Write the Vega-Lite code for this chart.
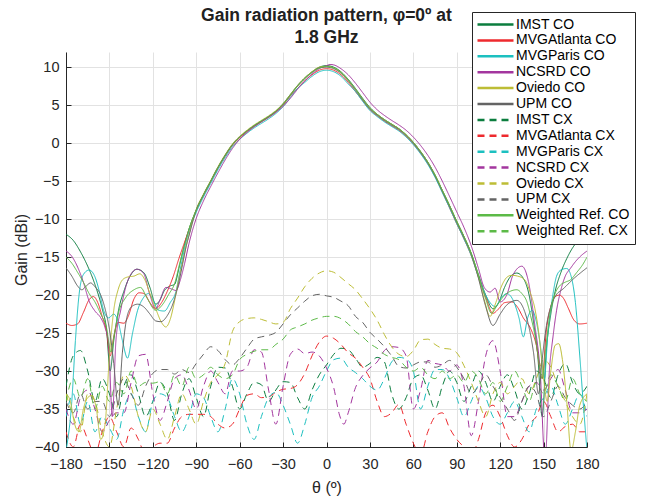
{
"$schema": "https://vega.github.io/schema/vega-lite/v6.json",
"width": 521, "height": 395,
"autosize": "none",
"padding": {"left": 66, "top": 52, "right": 62, "bottom": 57},
"background": "white",
"config": {"view": {"stroke": null}, "font": "Liberation Sans",
  "axis": {"domainColor": "#262626", "tickColor": "#262626", "labelColor": "#262626", "titleColor": "#262626", "labelFont": "Liberation Sans", "titleFont": "Liberation Sans", "labelFontSize": 14.5, "titleFontSize": 16, "titleFontWeight": "normal", "gridColor": "#e2e2e2", "gridOpacity": 1, "tickSize": -5, "domainWidth": 1, "labelOverlap": false, "labelFlush": false}},
"title": {"text": ["Gain radiation pattern, φ=0º at", "1.8 GHz"], "fontSize": 17.5, "fontWeight": "bold", "color": "#212121", "font": "Liberation Sans", "offset": 8, "dy": 43, "lineHeight": 22, "anchor": "middle", "frame": "group"},
"datasets": {"d": [
{"s":"IMST CX","t":-180,"g":-32},{"s":"IMST CX","t":-175,"g":-28},{"s":"IMST CX","t":-170,"g":-27.3},{"s":"IMST CX","t":-165,"g":-30},{"s":"IMST CX","t":-160,"g":-34},{"s":"IMST CX","t":-155,"g":-31},{"s":"IMST CX","t":-150,"g":-33},{"s":"IMST CX","t":-145,"g":-36},{"s":"IMST CX","t":-140,"g":-32},{"s":"IMST CX","t":-135,"g":-30.5},{"s":"IMST CX","t":-130,"g":-33},{"s":"IMST CX","t":-125,"g":-36},{"s":"IMST CX","t":-120,"g":-34},{"s":"IMST CX","t":-115,"g":-31.5},{"s":"IMST CX","t":-110,"g":-33},{"s":"IMST CX","t":-105,"g":-36.5},{"s":"IMST CX","t":-100,"g":-33},{"s":"IMST CX","t":-95,"g":-31},{"s":"IMST CX","t":-90,"g":-33.5},{"s":"IMST CX","t":-85,"g":-36},{"s":"IMST CX","t":-80,"g":-32},{"s":"IMST CX","t":-75,"g":-29.5},{"s":"IMST CX","t":-70,"g":-29.6},{"s":"IMST CX","t":-65,"g":-32},{"s":"IMST CX","t":-60,"g":-35},{"s":"IMST CX","t":-55,"g":-33},{"s":"IMST CX","t":-50,"g":-31.5},{"s":"IMST CX","t":-45,"g":-31.8},{"s":"IMST CX","t":-40,"g":-34},{"s":"IMST CX","t":-35,"g":-32.5},{"s":"IMST CX","t":-30,"g":-31.4},{"s":"IMST CX","t":-25,"g":-31.5},{"s":"IMST CX","t":-20,"g":-33.5},{"s":"IMST CX","t":-15,"g":-35},{"s":"IMST CX","t":-10,"g":-32.5},{"s":"IMST CX","t":-5,"g":-30.5},{"s":"IMST CX","t":0,"g":-29.2},{"s":"IMST CX","t":5,"g":-27.8},{"s":"IMST CX","t":10,"g":-27},{"s":"IMST CX","t":15,"g":-27.2},{"s":"IMST CX","t":20,"g":-28.3},{"s":"IMST CX","t":25,"g":-29.5},{"s":"IMST CX","t":30,"g":-29},{"s":"IMST CX","t":35,"g":-28.2},{"s":"IMST CX","t":40,"g":-28.8},{"s":"IMST CX","t":45,"g":-33},{"s":"IMST CX","t":50,"g":-35},{"s":"IMST CX","t":55,"g":-33.5},{"s":"IMST CX","t":60,"g":-31},{"s":"IMST CX","t":65,"g":-30.5},{"s":"IMST CX","t":70,"g":-32.5},{"s":"IMST CX","t":75,"g":-35},{"s":"IMST CX","t":80,"g":-32},{"s":"IMST CX","t":85,"g":-30},{"s":"IMST CX","t":90,"g":-31.5},{"s":"IMST CX","t":95,"g":-34},{"s":"IMST CX","t":100,"g":-32},{"s":"IMST CX","t":105,"g":-30},{"s":"IMST CX","t":110,"g":-31.5},{"s":"IMST CX","t":115,"g":-34},{"s":"IMST CX","t":120,"g":-32},{"s":"IMST CX","t":125,"g":-30.5},{"s":"IMST CX","t":130,"g":-32.5},{"s":"IMST CX","t":135,"g":-35},{"s":"IMST CX","t":140,"g":-33},{"s":"IMST CX","t":145,"g":-30},{"s":"IMST CX","t":150,"g":-31},{"s":"IMST CX","t":155,"g":-33.5},{"s":"IMST CX","t":160,"g":-30.5},{"s":"IMST CX","t":165,"g":-29},{"s":"IMST CX","t":170,"g":-31.5},{"s":"IMST CX","t":175,"g":-33},{"s":"IMST CX","t":180,"g":-32},

{"s":"MVGAtlanta CX","t":-180,"g":-38},{"s":"MVGAtlanta CX","t":-175,"g":-40},{"s":"MVGAtlanta CX","t":-170,"g":-37},{"s":"MVGAtlanta CX","t":-165,"g":-39},{"s":"MVGAtlanta CX","t":-160,"g":-41},{"s":"MVGAtlanta CX","t":-155,"g":-38},{"s":"MVGAtlanta CX","t":-150,"g":-36},{"s":"MVGAtlanta CX","t":-145,"g":-38},{"s":"MVGAtlanta CX","t":-140,"g":-40},{"s":"MVGAtlanta CX","t":-135,"g":-37.5},{"s":"MVGAtlanta CX","t":-130,"g":-39},{"s":"MVGAtlanta CX","t":-125,"g":-41},{"s":"MVGAtlanta CX","t":-120,"g":-40},{"s":"MVGAtlanta CX","t":-115,"g":-39.5},{"s":"MVGAtlanta CX","t":-110,"g":-39.5},{"s":"MVGAtlanta CX","t":-105,"g":-37.5},{"s":"MVGAtlanta CX","t":-100,"g":-36},{"s":"MVGAtlanta CX","t":-95,"g":-35.7},{"s":"MVGAtlanta CX","t":-90,"g":-35.7},{"s":"MVGAtlanta CX","t":-85,"g":-35.7},{"s":"MVGAtlanta CX","t":-80,"g":-36},{"s":"MVGAtlanta CX","t":-75,"g":-37},{"s":"MVGAtlanta CX","t":-70,"g":-37.5},{"s":"MVGAtlanta CX","t":-65,"g":-37},{"s":"MVGAtlanta CX","t":-60,"g":-35},{"s":"MVGAtlanta CX","t":-55,"g":-33.2},{"s":"MVGAtlanta CX","t":-50,"g":-33},{"s":"MVGAtlanta CX","t":-45,"g":-33.5},{"s":"MVGAtlanta CX","t":-40,"g":-33.4},{"s":"MVGAtlanta CX","t":-35,"g":-32.8},{"s":"MVGAtlanta CX","t":-30,"g":-32.4},{"s":"MVGAtlanta CX","t":-25,"g":-32.3},{"s":"MVGAtlanta CX","t":-20,"g":-31.8},{"s":"MVGAtlanta CX","t":-15,"g":-30.3},{"s":"MVGAtlanta CX","t":-10,"g":-28},{"s":"MVGAtlanta CX","t":-5,"g":-26.2},{"s":"MVGAtlanta CX","t":0,"g":-25.4},{"s":"MVGAtlanta CX","t":5,"g":-25.7},{"s":"MVGAtlanta CX","t":10,"g":-26.5},{"s":"MVGAtlanta CX","t":15,"g":-27.6},{"s":"MVGAtlanta CX","t":20,"g":-28.3},{"s":"MVGAtlanta CX","t":25,"g":-29.5},{"s":"MVGAtlanta CX","t":30,"g":-31},{"s":"MVGAtlanta CX","t":35,"g":-34},{"s":"MVGAtlanta CX","t":40,"g":-36},{"s":"MVGAtlanta CX","t":45,"g":-35.5},{"s":"MVGAtlanta CX","t":50,"g":-34.4},{"s":"MVGAtlanta CX","t":55,"g":-37},{"s":"MVGAtlanta CX","t":60,"g":-39.5},{"s":"MVGAtlanta CX","t":65,"g":-41},{"s":"MVGAtlanta CX","t":70,"g":-38},{"s":"MVGAtlanta CX","t":75,"g":-36},{"s":"MVGAtlanta CX","t":80,"g":-35.5},{"s":"MVGAtlanta CX","t":85,"g":-37.5},{"s":"MVGAtlanta CX","t":90,"g":-39},{"s":"MVGAtlanta CX","t":95,"g":-40},{"s":"MVGAtlanta CX","t":100,"g":-41},{"s":"MVGAtlanta CX","t":105,"g":-39},{"s":"MVGAtlanta CX","t":110,"g":-35.5},{"s":"MVGAtlanta CX","t":115,"g":-34.5},{"s":"MVGAtlanta CX","t":120,"g":-36},{"s":"MVGAtlanta CX","t":125,"g":-38.5},{"s":"MVGAtlanta CX","t":130,"g":-40},{"s":"MVGAtlanta CX","t":135,"g":-39},{"s":"MVGAtlanta CX","t":140,"g":-37},{"s":"MVGAtlanta CX","t":145,"g":-36},{"s":"MVGAtlanta CX","t":150,"g":-34},{"s":"MVGAtlanta CX","t":155,"g":-36},{"s":"MVGAtlanta CX","t":160,"g":-38},{"s":"MVGAtlanta CX","t":165,"g":-37.3},{"s":"MVGAtlanta CX","t":170,"g":-37},{"s":"MVGAtlanta CX","t":175,"g":-38},{"s":"MVGAtlanta CX","t":180,"g":-38},

{"s":"MVGParis CX","t":-180,"g":-36},{"s":"MVGParis CX","t":-175,"g":-33},{"s":"MVGParis CX","t":-170,"g":-37},{"s":"MVGParis CX","t":-165,"g":-34},{"s":"MVGParis CX","t":-160,"g":-38},{"s":"MVGParis CX","t":-155,"g":-36},{"s":"MVGParis CX","t":-150,"g":-37.5},{"s":"MVGParis CX","t":-145,"g":-39},{"s":"MVGParis CX","t":-140,"g":-35},{"s":"MVGParis CX","t":-135,"g":-33},{"s":"MVGParis CX","t":-130,"g":-36},{"s":"MVGParis CX","t":-125,"g":-38},{"s":"MVGParis CX","t":-120,"g":-34},{"s":"MVGParis CX","t":-115,"g":-33},{"s":"MVGParis CX","t":-110,"g":-33.5},{"s":"MVGParis CX","t":-105,"g":-36},{"s":"MVGParis CX","t":-100,"g":-38},{"s":"MVGParis CX","t":-95,"g":-36},{"s":"MVGParis CX","t":-90,"g":-33},{"s":"MVGParis CX","t":-85,"g":-33.5},{"s":"MVGParis CX","t":-80,"g":-36},{"s":"MVGParis CX","t":-75,"g":-38},{"s":"MVGParis CX","t":-70,"g":-35},{"s":"MVGParis CX","t":-65,"g":-31},{"s":"MVGParis CX","t":-60,"g":-33},{"s":"MVGParis CX","t":-55,"g":-37},{"s":"MVGParis CX","t":-50,"g":-39},{"s":"MVGParis CX","t":-45,"g":-36},{"s":"MVGParis CX","t":-40,"g":-33.5},{"s":"MVGParis CX","t":-35,"g":-32.8},{"s":"MVGParis CX","t":-30,"g":-34.5},{"s":"MVGParis CX","t":-25,"g":-37},{"s":"MVGParis CX","t":-20,"g":-39.5},{"s":"MVGParis CX","t":-15,"g":-37},{"s":"MVGParis CX","t":-10,"g":-33.5},{"s":"MVGParis CX","t":-5,"g":-32},{"s":"MVGParis CX","t":0,"g":-30},{"s":"MVGParis CX","t":5,"g":-28.5},{"s":"MVGParis CX","t":10,"g":-28.3},{"s":"MVGParis CX","t":15,"g":-29.5},{"s":"MVGParis CX","t":20,"g":-30.2},{"s":"MVGParis CX","t":25,"g":-31},{"s":"MVGParis CX","t":30,"g":-32},{"s":"MVGParis CX","t":35,"g":-32.5},{"s":"MVGParis CX","t":40,"g":-31},{"s":"MVGParis CX","t":45,"g":-28.8},{"s":"MVGParis CX","t":50,"g":-28.2},{"s":"MVGParis CX","t":55,"g":-28.4},{"s":"MVGParis CX","t":60,"g":-30},{"s":"MVGParis CX","t":65,"g":-35},{"s":"MVGParis CX","t":70,"g":-32},{"s":"MVGParis CX","t":75,"g":-29.8},{"s":"MVGParis CX","t":80,"g":-29.8},{"s":"MVGParis CX","t":85,"g":-31},{"s":"MVGParis CX","t":90,"g":-33.5},{"s":"MVGParis CX","t":95,"g":-36},{"s":"MVGParis CX","t":100,"g":-34},{"s":"MVGParis CX","t":105,"g":-32},{"s":"MVGParis CX","t":110,"g":-33.5},{"s":"MVGParis CX","t":115,"g":-36},{"s":"MVGParis CX","t":120,"g":-37},{"s":"MVGParis CX","t":125,"g":-35.5},{"s":"MVGParis CX","t":130,"g":-34},{"s":"MVGParis CX","t":135,"g":-36},{"s":"MVGParis CX","t":140,"g":-38},{"s":"MVGParis CX","t":145,"g":-35},{"s":"MVGParis CX","t":150,"g":-33.5},{"s":"MVGParis CX","t":155,"g":-32},{"s":"MVGParis CX","t":160,"g":-34.5},{"s":"MVGParis CX","t":165,"g":-37},{"s":"MVGParis CX","t":170,"g":-35},{"s":"MVGParis CX","t":175,"g":-33},{"s":"MVGParis CX","t":180,"g":-36},

{"s":"NCSRD CX","t":-180,"g":-35},{"s":"NCSRD CX","t":-175,"g":-37},{"s":"NCSRD CX","t":-170,"g":-33.5},{"s":"NCSRD CX","t":-165,"g":-32.5},{"s":"NCSRD CX","t":-160,"g":-35},{"s":"NCSRD CX","t":-155,"g":-38},{"s":"NCSRD CX","t":-150,"g":-36.5},{"s":"NCSRD CX","t":-145,"g":-35.5},{"s":"NCSRD CX","t":-140,"g":-35.5},{"s":"NCSRD CX","t":-135,"g":-31.5},{"s":"NCSRD CX","t":-130,"g":-28},{"s":"NCSRD CX","t":-125,"g":-27.8},{"s":"NCSRD CX","t":-120,"g":-33},{"s":"NCSRD CX","t":-115,"g":-36.5},{"s":"NCSRD CX","t":-110,"g":-34},{"s":"NCSRD CX","t":-105,"g":-31},{"s":"NCSRD CX","t":-100,"g":-30.5},{"s":"NCSRD CX","t":-95,"g":-32.5},{"s":"NCSRD CX","t":-90,"g":-35},{"s":"NCSRD CX","t":-85,"g":-32},{"s":"NCSRD CX","t":-80,"g":-30},{"s":"NCSRD CX","t":-75,"g":-31.5},{"s":"NCSRD CX","t":-70,"g":-33},{"s":"NCSRD CX","t":-65,"g":-30},{"s":"NCSRD CX","t":-60,"g":-30},{"s":"NCSRD CX","t":-55,"g":-29.5},{"s":"NCSRD CX","t":-50,"g":-27.2},{"s":"NCSRD CX","t":-45,"g":-27.5},{"s":"NCSRD CX","t":-40,"g":-32.5},{"s":"NCSRD CX","t":-35,"g":-37},{"s":"NCSRD CX","t":-30,"g":-32},{"s":"NCSRD CX","t":-25,"g":-27.8},{"s":"NCSRD CX","t":-20,"g":-27.1},{"s":"NCSRD CX","t":-15,"g":-27.7},{"s":"NCSRD CX","t":-10,"g":-27.5},{"s":"NCSRD CX","t":-5,"g":-28},{"s":"NCSRD CX","t":0,"g":-29.6},{"s":"NCSRD CX","t":5,"g":-32.2},{"s":"NCSRD CX","t":9,"g":-35.8},{"s":"NCSRD CX","t":12,"g":-37},{"s":"NCSRD CX","t":15,"g":-35.5},{"s":"NCSRD CX","t":20,"g":-32.2},{"s":"NCSRD CX","t":25,"g":-30.6},{"s":"NCSRD CX","t":30,"g":-29.6},{"s":"NCSRD CX","t":35,"g":-28.8},{"s":"NCSRD CX","t":40,"g":-27.3},{"s":"NCSRD CX","t":45,"g":-26.8},{"s":"NCSRD CX","t":50,"g":-26.9},{"s":"NCSRD CX","t":55,"g":-28},{"s":"NCSRD CX","t":60,"g":-35},{"s":"NCSRD CX","t":65,"g":-32.5},{"s":"NCSRD CX","t":70,"g":-28.6},{"s":"NCSRD CX","t":75,"g":-29},{"s":"NCSRD CX","t":80,"g":-29.2},{"s":"NCSRD CX","t":85,"g":-30},{"s":"NCSRD CX","t":90,"g":-29.2},{"s":"NCSRD CX","t":95,"g":-32},{"s":"NCSRD CX","t":100,"g":-38.5},{"s":"NCSRD CX","t":105,"g":-34},{"s":"NCSRD CX","t":110,"g":-28},{"s":"NCSRD CX","t":115,"g":-26},{"s":"NCSRD CX","t":120,"g":-30},{"s":"NCSRD CX","t":125,"g":-36},{"s":"NCSRD CX","t":130,"g":-36},{"s":"NCSRD CX","t":135,"g":-34},{"s":"NCSRD CX","t":140,"g":-32},{"s":"NCSRD CX","t":145,"g":-31.5},{"s":"NCSRD CX","t":150,"g":-32.5},{"s":"NCSRD CX","t":155,"g":-31},{"s":"NCSRD CX","t":160,"g":-29.8},{"s":"NCSRD CX","t":165,"g":-32.5},{"s":"NCSRD CX","t":170,"g":-35.5},{"s":"NCSRD CX","t":175,"g":-35.5},{"s":"NCSRD CX","t":180,"g":-35},

{"s":"Oviedo CX","t":-180,"g":-33},{"s":"Oviedo CX","t":-175,"g":-36},{"s":"Oviedo CX","t":-170,"g":-38},{"s":"Oviedo CX","t":-165,"g":-33},{"s":"Oviedo CX","t":-160,"g":-34},{"s":"Oviedo CX","t":-155,"g":-38},{"s":"Oviedo CX","t":-150,"g":-40},{"s":"Oviedo CX","t":-145,"g":-35},{"s":"Oviedo CX","t":-140,"g":-30.5},{"s":"Oviedo CX","t":-135,"g":-32},{"s":"Oviedo CX","t":-130,"g":-36},{"s":"Oviedo CX","t":-125,"g":-38},{"s":"Oviedo CX","t":-120,"g":-35},{"s":"Oviedo CX","t":-115,"g":-37},{"s":"Oviedo CX","t":-110,"g":-39},{"s":"Oviedo CX","t":-105,"g":-36},{"s":"Oviedo CX","t":-100,"g":-33},{"s":"Oviedo CX","t":-95,"g":-35},{"s":"Oviedo CX","t":-90,"g":-37},{"s":"Oviedo CX","t":-85,"g":-34},{"s":"Oviedo CX","t":-80,"g":-31.5},{"s":"Oviedo CX","t":-75,"g":-30.5},{"s":"Oviedo CX","t":-70,"g":-29},{"s":"Oviedo CX","t":-65,"g":-24.8},{"s":"Oviedo CX","t":-60,"g":-23.5},{"s":"Oviedo CX","t":-55,"g":-23.1},{"s":"Oviedo CX","t":-50,"g":-23},{"s":"Oviedo CX","t":-45,"g":-23.2},{"s":"Oviedo CX","t":-40,"g":-23.5},{"s":"Oviedo CX","t":-35,"g":-23.8},{"s":"Oviedo CX","t":-30,"g":-23.6},{"s":"Oviedo CX","t":-25,"g":-21.8},{"s":"Oviedo CX","t":-20,"g":-20.4},{"s":"Oviedo CX","t":-15,"g":-18.9},{"s":"Oviedo CX","t":-10,"g":-17.8},{"s":"Oviedo CX","t":-5,"g":-17.1},{"s":"Oviedo CX","t":0,"g":-16.8},{"s":"Oviedo CX","t":5,"g":-17},{"s":"Oviedo CX","t":10,"g":-17.7},{"s":"Oviedo CX","t":15,"g":-18.5},{"s":"Oviedo CX","t":20,"g":-19.3},{"s":"Oviedo CX","t":25,"g":-20.5},{"s":"Oviedo CX","t":30,"g":-21.8},{"s":"Oviedo CX","t":35,"g":-23.3},{"s":"Oviedo CX","t":40,"g":-25.2},{"s":"Oviedo CX","t":45,"g":-26.8},{"s":"Oviedo CX","t":50,"g":-27.8},{"s":"Oviedo CX","t":55,"g":-28.1},{"s":"Oviedo CX","t":60,"g":-27.3},{"s":"Oviedo CX","t":65,"g":-25.9},{"s":"Oviedo CX","t":70,"g":-25.8},{"s":"Oviedo CX","t":75,"g":-26.5},{"s":"Oviedo CX","t":80,"g":-27},{"s":"Oviedo CX","t":85,"g":-27.1},{"s":"Oviedo CX","t":90,"g":-27.6},{"s":"Oviedo CX","t":95,"g":-29.3},{"s":"Oviedo CX","t":100,"g":-31.5},{"s":"Oviedo CX","t":105,"g":-34},{"s":"Oviedo CX","t":110,"g":-36},{"s":"Oviedo CX","t":115,"g":-33},{"s":"Oviedo CX","t":120,"g":-31.5},{"s":"Oviedo CX","t":125,"g":-33},{"s":"Oviedo CX","t":130,"g":-32},{"s":"Oviedo CX","t":135,"g":-31},{"s":"Oviedo CX","t":140,"g":-33},{"s":"Oviedo CX","t":145,"g":-31},{"s":"Oviedo CX","t":150,"g":-28.5},{"s":"Oviedo CX","t":155,"g":-29.5},{"s":"Oviedo CX","t":160,"g":-32},{"s":"Oviedo CX","t":165,"g":-34},{"s":"Oviedo CX","t":170,"g":-36},{"s":"Oviedo CX","t":175,"g":-37},{"s":"Oviedo CX","t":180,"g":-33},

{"s":"UPM CX","t":-180,"g":-34},{"s":"UPM CX","t":-175,"g":-35.5},{"s":"UPM CX","t":-170,"g":-33},{"s":"UPM CX","t":-165,"g":-35},{"s":"UPM CX","t":-160,"g":-34},{"s":"UPM CX","t":-155,"g":-34},{"s":"UPM CX","t":-150,"g":-36},{"s":"UPM CX","t":-145,"g":-33},{"s":"UPM CX","t":-140,"g":-31},{"s":"UPM CX","t":-135,"g":-33},{"s":"UPM CX","t":-130,"g":-34.5},{"s":"UPM CX","t":-125,"g":-32},{"s":"UPM CX","t":-120,"g":-30.3},{"s":"UPM CX","t":-115,"g":-29.8},{"s":"UPM CX","t":-110,"g":-29.8},{"s":"UPM CX","t":-105,"g":-30.4},{"s":"UPM CX","t":-100,"g":-29.8},{"s":"UPM CX","t":-95,"g":-30.2},{"s":"UPM CX","t":-90,"g":-29},{"s":"UPM CX","t":-85,"g":-27.8},{"s":"UPM CX","t":-80,"g":-26.8},{"s":"UPM CX","t":-75,"g":-27.3},{"s":"UPM CX","t":-70,"g":-28.5},{"s":"UPM CX","t":-65,"g":-29.2},{"s":"UPM CX","t":-60,"g":-28.3},{"s":"UPM CX","t":-55,"g":-27},{"s":"UPM CX","t":-50,"g":-25.8},{"s":"UPM CX","t":-45,"g":-25.5},{"s":"UPM CX","t":-40,"g":-25.3},{"s":"UPM CX","t":-35,"g":-24.9},{"s":"UPM CX","t":-30,"g":-23.8},{"s":"UPM CX","t":-25,"g":-22.6},{"s":"UPM CX","t":-20,"g":-21.7},{"s":"UPM CX","t":-15,"g":-20.8},{"s":"UPM CX","t":-10,"g":-20.1},{"s":"UPM CX","t":-5,"g":-19.9},{"s":"UPM CX","t":0,"g":-20.1},{"s":"UPM CX","t":5,"g":-20.3},{"s":"UPM CX","t":10,"g":-20.8},{"s":"UPM CX","t":15,"g":-21.4},{"s":"UPM CX","t":20,"g":-22.8},{"s":"UPM CX","t":25,"g":-23.6},{"s":"UPM CX","t":30,"g":-24.9},{"s":"UPM CX","t":35,"g":-25.8},{"s":"UPM CX","t":40,"g":-26.8},{"s":"UPM CX","t":45,"g":-28},{"s":"UPM CX","t":50,"g":-29.4},{"s":"UPM CX","t":55,"g":-29.6},{"s":"UPM CX","t":60,"g":-29.2},{"s":"UPM CX","t":65,"g":-28.8},{"s":"UPM CX","t":70,"g":-28.8},{"s":"UPM CX","t":75,"g":-29.5},{"s":"UPM CX","t":80,"g":-29.2},{"s":"UPM CX","t":85,"g":-28.6},{"s":"UPM CX","t":90,"g":-29.5},{"s":"UPM CX","t":95,"g":-31},{"s":"UPM CX","t":100,"g":-33},{"s":"UPM CX","t":105,"g":-32},{"s":"UPM CX","t":110,"g":-30.5},{"s":"UPM CX","t":115,"g":-32},{"s":"UPM CX","t":120,"g":-33.5},{"s":"UPM CX","t":125,"g":-35},{"s":"UPM CX","t":130,"g":-36.5},{"s":"UPM CX","t":135,"g":-34},{"s":"UPM CX","t":140,"g":-32},{"s":"UPM CX","t":145,"g":-33},{"s":"UPM CX","t":150,"g":-36},{"s":"UPM CX","t":155,"g":-34},{"s":"UPM CX","t":160,"g":-32},{"s":"UPM CX","t":165,"g":-33.5},{"s":"UPM CX","t":170,"g":-34.5},{"s":"UPM CX","t":175,"g":-35},{"s":"UPM CX","t":180,"g":-34},

{"s":"Weighted Ref. CX","t":-180,"g":-34},{"s":"Weighted Ref. CX","t":-175,"g":-31},{"s":"Weighted Ref. CX","t":-170,"g":-33.5},{"s":"Weighted Ref. CX","t":-165,"g":-31},{"s":"Weighted Ref. CX","t":-160,"g":-35},{"s":"Weighted Ref. CX","t":-155,"g":-32},{"s":"Weighted Ref. CX","t":-150,"g":-34},{"s":"Weighted Ref. CX","t":-145,"g":-31.5},{"s":"Weighted Ref. CX","t":-140,"g":-33},{"s":"Weighted Ref. CX","t":-135,"g":-30},{"s":"Weighted Ref. CX","t":-130,"g":-32},{"s":"Weighted Ref. CX","t":-125,"g":-31.5},{"s":"Weighted Ref. CX","t":-120,"g":-31.6},{"s":"Weighted Ref. CX","t":-115,"g":-31.4},{"s":"Weighted Ref. CX","t":-110,"g":-33},{"s":"Weighted Ref. CX","t":-105,"g":-30.5},{"s":"Weighted Ref. CX","t":-100,"g":-32},{"s":"Weighted Ref. CX","t":-95,"g":-29.5},{"s":"Weighted Ref. CX","t":-90,"g":-31},{"s":"Weighted Ref. CX","t":-85,"g":-30.5},{"s":"Weighted Ref. CX","t":-80,"g":-29.5},{"s":"Weighted Ref. CX","t":-75,"g":-30.5},{"s":"Weighted Ref. CX","t":-70,"g":-31},{"s":"Weighted Ref. CX","t":-65,"g":-30.5},{"s":"Weighted Ref. CX","t":-60,"g":-28.5},{"s":"Weighted Ref. CX","t":-55,"g":-27.8},{"s":"Weighted Ref. CX","t":-50,"g":-27.4},{"s":"Weighted Ref. CX","t":-45,"g":-27.2},{"s":"Weighted Ref. CX","t":-40,"g":-27.2},{"s":"Weighted Ref. CX","t":-35,"g":-26.5},{"s":"Weighted Ref. CX","t":-30,"g":-25.8},{"s":"Weighted Ref. CX","t":-25,"g":-24.6},{"s":"Weighted Ref. CX","t":-20,"g":-24.2},{"s":"Weighted Ref. CX","t":-15,"g":-23.8},{"s":"Weighted Ref. CX","t":-10,"g":-23.3},{"s":"Weighted Ref. CX","t":-5,"g":-23},{"s":"Weighted Ref. CX","t":0,"g":-22.8},{"s":"Weighted Ref. CX","t":5,"g":-22.8},{"s":"Weighted Ref. CX","t":10,"g":-23.1},{"s":"Weighted Ref. CX","t":15,"g":-23.8},{"s":"Weighted Ref. CX","t":20,"g":-24.8},{"s":"Weighted Ref. CX","t":25,"g":-25.5},{"s":"Weighted Ref. CX","t":30,"g":-26.4},{"s":"Weighted Ref. CX","t":35,"g":-27},{"s":"Weighted Ref. CX","t":40,"g":-27.8},{"s":"Weighted Ref. CX","t":45,"g":-28.2},{"s":"Weighted Ref. CX","t":50,"g":-28.5},{"s":"Weighted Ref. CX","t":55,"g":-29.5},{"s":"Weighted Ref. CX","t":60,"g":-30},{"s":"Weighted Ref. CX","t":65,"g":-29.5},{"s":"Weighted Ref. CX","t":70,"g":-30.5},{"s":"Weighted Ref. CX","t":75,"g":-31},{"s":"Weighted Ref. CX","t":80,"g":-30},{"s":"Weighted Ref. CX","t":85,"g":-31},{"s":"Weighted Ref. CX","t":90,"g":-30.5},{"s":"Weighted Ref. CX","t":95,"g":-31.5},{"s":"Weighted Ref. CX","t":100,"g":-30},{"s":"Weighted Ref. CX","t":105,"g":-31},{"s":"Weighted Ref. CX","t":110,"g":-33},{"s":"Weighted Ref. CX","t":115,"g":-31.5},{"s":"Weighted Ref. CX","t":120,"g":-34},{"s":"Weighted Ref. CX","t":125,"g":-32},{"s":"Weighted Ref. CX","t":130,"g":-30},{"s":"Weighted Ref. CX","t":135,"g":-32},{"s":"Weighted Ref. CX","t":140,"g":-34},{"s":"Weighted Ref. CX","t":145,"g":-31.5},{"s":"Weighted Ref. CX","t":150,"g":-33},{"s":"Weighted Ref. CX","t":155,"g":-30.5},{"s":"Weighted Ref. CX","t":160,"g":-32},{"s":"Weighted Ref. CX","t":165,"g":-34},{"s":"Weighted Ref. CX","t":170,"g":-31},{"s":"Weighted Ref. CX","t":175,"g":-33},{"s":"Weighted Ref. CX","t":180,"g":-34},

{"s":"IMST CO","t":-180,"g":-12},{"s":"IMST CO","t":-175,"g":-12.8},{"s":"IMST CO","t":-170,"g":-14.3},{"s":"IMST CO","t":-165,"g":-16.2},{"s":"IMST CO","t":-160,"g":-18.6},{"s":"IMST CO","t":-155,"g":-21.8},{"s":"IMST CO","t":-152,"g":-24.5},{"s":"IMST CO","t":-149.5,"g":-30},{"s":"IMST CO","t":-147,"g":-26},{"s":"IMST CO","t":-143.5,"g":-21.8},{"s":"IMST CO","t":-140,"g":-19.5},{"s":"IMST CO","t":-136.5,"g":-17.8},{"s":"IMST CO","t":-131,"g":-16.6},{"s":"IMST CO","t":-126,"g":-17.1},{"s":"IMST CO","t":-122,"g":-19},{"s":"IMST CO","t":-118,"g":-21.2},{"s":"IMST CO","t":-115.5,"g":-20.8},{"s":"IMST CO","t":-112,"g":-19.4},{"s":"IMST CO","t":-108,"g":-18.8},{"s":"IMST CO","t":-105,"g":-18.6},{"s":"IMST CO","t":-102,"g":-16.5},{"s":"IMST CO","t":-99,"g":-14},{"s":"IMST CO","t":-95,"g":-11.3},{"s":"IMST CO","t":-90,"g":-8.8},{"s":"IMST CO","t":-85,"g":-6.8},{"s":"IMST CO","t":-80,"g":-5},{"s":"IMST CO","t":-75,"g":-3.2},{"s":"IMST CO","t":-70,"g":-1.6},{"s":"IMST CO","t":-65,"g":-0.2},{"s":"IMST CO","t":-60,"g":0.8},{"s":"IMST CO","t":-55,"g":1.6},{"s":"IMST CO","t":-50,"g":2.3},{"s":"IMST CO","t":-45,"g":2.9},{"s":"IMST CO","t":-40,"g":3.5},{"s":"IMST CO","t":-35,"g":4.2},{"s":"IMST CO","t":-30,"g":5.2},{"s":"IMST CO","t":-25,"g":6.4},{"s":"IMST CO","t":-20,"g":7.6},{"s":"IMST CO","t":-15,"g":8.6},{"s":"IMST CO","t":-10,"g":9.4},{"s":"IMST CO","t":-5,"g":10},{"s":"IMST CO","t":0,"g":10.2},{"s":"IMST CO","t":5,"g":10},{"s":"IMST CO","t":10,"g":9.4},{"s":"IMST CO","t":15,"g":8.4},{"s":"IMST CO","t":20,"g":7.2},{"s":"IMST CO","t":25,"g":5.9},{"s":"IMST CO","t":30,"g":4.7},{"s":"IMST CO","t":35,"g":3.8},{"s":"IMST CO","t":40,"g":3.1},{"s":"IMST CO","t":45,"g":2.5},{"s":"IMST CO","t":50,"g":1.9},{"s":"IMST CO","t":55,"g":1.1},{"s":"IMST CO","t":60,"g":0.1},{"s":"IMST CO","t":65,"g":-1.1},{"s":"IMST CO","t":70,"g":-2.5},{"s":"IMST CO","t":75,"g":-4.2},{"s":"IMST CO","t":80,"g":-6.2},{"s":"IMST CO","t":85,"g":-8.2},{"s":"IMST CO","t":90,"g":-10.3},{"s":"IMST CO","t":95,"g":-12.3},{"s":"IMST CO","t":100,"g":-14.5},{"s":"IMST CO","t":105,"g":-17.3},{"s":"IMST CO","t":110,"g":-20},{"s":"IMST CO","t":115,"g":-21.8},{"s":"IMST CO","t":119,"g":-21},{"s":"IMST CO","t":123,"g":-19},{"s":"IMST CO","t":127,"g":-17.6},{"s":"IMST CO","t":131.5,"g":-17.1},{"s":"IMST CO","t":136,"g":-17.8},{"s":"IMST CO","t":140,"g":-20},{"s":"IMST CO","t":143,"g":-23.5},{"s":"IMST CO","t":146,"g":-28},{"s":"IMST CO","t":149,"g":-36},{"s":"IMST CO","t":152,"g":-27},{"s":"IMST CO","t":155,"g":-22.5},{"s":"IMST CO","t":158,"g":-19.5},{"s":"IMST CO","t":162,"g":-17},{"s":"IMST CO","t":166,"g":-15.2},{"s":"IMST CO","t":170,"g":-13.8},{"s":"IMST CO","t":175,"g":-12.6},{"s":"IMST CO","t":180,"g":-12},

{"s":"MVGAtlanta CO","t":-180,"g":-23.7},{"s":"MVGAtlanta CO","t":-176,"g":-24},{"s":"MVGAtlanta CO","t":-172,"g":-23.8},{"s":"MVGAtlanta CO","t":-168,"g":-22.3},{"s":"MVGAtlanta CO","t":-164,"g":-20.6},{"s":"MVGAtlanta CO","t":-161,"g":-20.2},{"s":"MVGAtlanta CO","t":-158,"g":-21},{"s":"MVGAtlanta CO","t":-155,"g":-22.8},{"s":"MVGAtlanta CO","t":-152,"g":-24.8},{"s":"MVGAtlanta CO","t":-149.5,"g":-28},{"s":"MVGAtlanta CO","t":-147,"g":-25.5},{"s":"MVGAtlanta CO","t":-144,"g":-23.6},{"s":"MVGAtlanta CO","t":-140,"g":-23.7},{"s":"MVGAtlanta CO","t":-137,"g":-22.8},{"s":"MVGAtlanta CO","t":-133,"g":-20.5},{"s":"MVGAtlanta CO","t":-129.5,"g":-19.7},{"s":"MVGAtlanta CO","t":-126,"g":-19.8},{"s":"MVGAtlanta CO","t":-122,"g":-21},{"s":"MVGAtlanta CO","t":-118,"g":-21.8},{"s":"MVGAtlanta CO","t":-114,"g":-21},{"s":"MVGAtlanta CO","t":-110,"g":-19.5},{"s":"MVGAtlanta CO","t":-106,"g":-17.6},{"s":"MVGAtlanta CO","t":-102,"g":-15.2},{"s":"MVGAtlanta CO","t":-98,"g":-13},{"s":"MVGAtlanta CO","t":-95,"g":-11.4},{"s":"MVGAtlanta CO","t":-90,"g":-8.9},{"s":"MVGAtlanta CO","t":-85,"g":-6.9},{"s":"MVGAtlanta CO","t":-80,"g":-5.1},{"s":"MVGAtlanta CO","t":-75,"g":-3.3},{"s":"MVGAtlanta CO","t":-70,"g":-1.7},{"s":"MVGAtlanta CO","t":-65,"g":-0.3},{"s":"MVGAtlanta CO","t":-60,"g":0.7},{"s":"MVGAtlanta CO","t":-55,"g":1.5},{"s":"MVGAtlanta CO","t":-50,"g":2.2},{"s":"MVGAtlanta CO","t":-45,"g":2.8},{"s":"MVGAtlanta CO","t":-40,"g":3.4},{"s":"MVGAtlanta CO","t":-35,"g":4.1},{"s":"MVGAtlanta CO","t":-30,"g":5},{"s":"MVGAtlanta CO","t":-25,"g":6.2},{"s":"MVGAtlanta CO","t":-20,"g":7.2},{"s":"MVGAtlanta CO","t":-15,"g":8.2},{"s":"MVGAtlanta CO","t":-10,"g":9},{"s":"MVGAtlanta CO","t":-5,"g":9.6},{"s":"MVGAtlanta CO","t":0,"g":9.8},{"s":"MVGAtlanta CO","t":5,"g":9.6},{"s":"MVGAtlanta CO","t":10,"g":9},{"s":"MVGAtlanta CO","t":15,"g":8},{"s":"MVGAtlanta CO","t":20,"g":6.8},{"s":"MVGAtlanta CO","t":25,"g":5.6},{"s":"MVGAtlanta CO","t":30,"g":4.4},{"s":"MVGAtlanta CO","t":35,"g":3.6},{"s":"MVGAtlanta CO","t":40,"g":2.9},{"s":"MVGAtlanta CO","t":45,"g":2.3},{"s":"MVGAtlanta CO","t":50,"g":1.7},{"s":"MVGAtlanta CO","t":55,"g":0.9},{"s":"MVGAtlanta CO","t":60,"g":-0.1},{"s":"MVGAtlanta CO","t":65,"g":-1.3},{"s":"MVGAtlanta CO","t":70,"g":-2.7},{"s":"MVGAtlanta CO","t":75,"g":-4.4},{"s":"MVGAtlanta CO","t":80,"g":-6.4},{"s":"MVGAtlanta CO","t":85,"g":-8.5},{"s":"MVGAtlanta CO","t":90,"g":-10.6},{"s":"MVGAtlanta CO","t":95,"g":-12.6},{"s":"MVGAtlanta CO","t":100,"g":-14.8},{"s":"MVGAtlanta CO","t":105,"g":-17.6},{"s":"MVGAtlanta CO","t":110,"g":-20.3},{"s":"MVGAtlanta CO","t":115,"g":-22.4},{"s":"MVGAtlanta CO","t":119,"g":-21.8},{"s":"MVGAtlanta CO","t":123,"g":-21},{"s":"MVGAtlanta CO","t":128,"g":-20.9},{"s":"MVGAtlanta CO","t":132,"g":-21.6},{"s":"MVGAtlanta CO","t":136,"g":-23},{"s":"MVGAtlanta CO","t":141,"g":-24.4},{"s":"MVGAtlanta CO","t":145,"g":-26.6},{"s":"MVGAtlanta CO","t":149,"g":-31},{"s":"MVGAtlanta CO","t":152,"g":-24.5},{"s":"MVGAtlanta CO","t":155,"g":-21.5},{"s":"MVGAtlanta CO","t":158,"g":-20.2},{"s":"MVGAtlanta CO","t":161,"g":-20},{"s":"MVGAtlanta CO","t":164,"g":-20.5},{"s":"MVGAtlanta CO","t":167,"g":-21.7},{"s":"MVGAtlanta CO","t":171,"g":-23.3},{"s":"MVGAtlanta CO","t":175,"g":-23.8},{"s":"MVGAtlanta CO","t":180,"g":-23.7},

{"s":"MVGParis CO","t":-180,"g":-40.5},{"s":"MVGParis CO","t":-176,"g":-34},{"s":"MVGParis CO","t":-173.5,"g":-26},{"s":"MVGParis CO","t":-171,"g":-20},{"s":"MVGParis CO","t":-168,"g":-17.3},{"s":"MVGParis CO","t":-164,"g":-16.7},{"s":"MVGParis CO","t":-160,"g":-17.6},{"s":"MVGParis CO","t":-157,"g":-19.5},{"s":"MVGParis CO","t":-154,"g":-22},{"s":"MVGParis CO","t":-150.5,"g":-23},{"s":"MVGParis CO","t":-147,"g":-22.5},{"s":"MVGParis CO","t":-144,"g":-23.5},{"s":"MVGParis CO","t":-141,"g":-26},{"s":"MVGParis CO","t":-137.5,"g":-28.3},{"s":"MVGParis CO","t":-134,"g":-25},{"s":"MVGParis CO","t":-130.5,"g":-22},{"s":"MVGParis CO","t":-127,"g":-20.5},{"s":"MVGParis CO","t":-123,"g":-19.8},{"s":"MVGParis CO","t":-120,"g":-20.6},{"s":"MVGParis CO","t":-116,"g":-22},{"s":"MVGParis CO","t":-112,"g":-22.1},{"s":"MVGParis CO","t":-108,"g":-21},{"s":"MVGParis CO","t":-104,"g":-19.5},{"s":"MVGParis CO","t":-101,"g":-16.6},{"s":"MVGParis CO","t":-98,"g":-13.8},{"s":"MVGParis CO","t":-95,"g":-11.6},{"s":"MVGParis CO","t":-90,"g":-9.1},{"s":"MVGParis CO","t":-85,"g":-7.1},{"s":"MVGParis CO","t":-80,"g":-5.3},{"s":"MVGParis CO","t":-75,"g":-3.5},{"s":"MVGParis CO","t":-70,"g":-1.9},{"s":"MVGParis CO","t":-65,"g":-0.5},{"s":"MVGParis CO","t":-60,"g":0.5},{"s":"MVGParis CO","t":-55,"g":1.3},{"s":"MVGParis CO","t":-50,"g":2},{"s":"MVGParis CO","t":-45,"g":2.6},{"s":"MVGParis CO","t":-40,"g":3.2},{"s":"MVGParis CO","t":-35,"g":3.9},{"s":"MVGParis CO","t":-30,"g":4.8},{"s":"MVGParis CO","t":-25,"g":6},{"s":"MVGParis CO","t":-20,"g":7.2},{"s":"MVGParis CO","t":-15,"g":8},{"s":"MVGParis CO","t":-10,"g":8.8},{"s":"MVGParis CO","t":-5,"g":9.4},{"s":"MVGParis CO","t":0,"g":9.6},{"s":"MVGParis CO","t":5,"g":9.4},{"s":"MVGParis CO","t":10,"g":8.8},{"s":"MVGParis CO","t":15,"g":7.8},{"s":"MVGParis CO","t":20,"g":6.8},{"s":"MVGParis CO","t":25,"g":5.5},{"s":"MVGParis CO","t":30,"g":4.3},{"s":"MVGParis CO","t":35,"g":3.5},{"s":"MVGParis CO","t":40,"g":2.8},{"s":"MVGParis CO","t":45,"g":2.2},{"s":"MVGParis CO","t":50,"g":1.6},{"s":"MVGParis CO","t":55,"g":0.8},{"s":"MVGParis CO","t":60,"g":-0.2},{"s":"MVGParis CO","t":65,"g":-1.4},{"s":"MVGParis CO","t":70,"g":-2.8},{"s":"MVGParis CO","t":75,"g":-4.5},{"s":"MVGParis CO","t":80,"g":-6.5},{"s":"MVGParis CO","t":85,"g":-8.5},{"s":"MVGParis CO","t":90,"g":-10.6},{"s":"MVGParis CO","t":95,"g":-12.6},{"s":"MVGParis CO","t":100,"g":-14.8},{"s":"MVGParis CO","t":105,"g":-17.6},{"s":"MVGParis CO","t":110,"g":-20},{"s":"MVGParis CO","t":116.5,"g":-21.5},{"s":"MVGParis CO","t":121,"g":-20.3},{"s":"MVGParis CO","t":124.5,"g":-19.8},{"s":"MVGParis CO","t":129,"g":-20.7},{"s":"MVGParis CO","t":133,"g":-23},{"s":"MVGParis CO","t":136,"g":-25.5},{"s":"MVGParis CO","t":139,"g":-23},{"s":"MVGParis CO","t":142,"g":-22},{"s":"MVGParis CO","t":145,"g":-23.5},{"s":"MVGParis CO","t":148,"g":-27},{"s":"MVGParis CO","t":150.5,"g":-31},{"s":"MVGParis CO","t":153,"g":-25},{"s":"MVGParis CO","t":156,"g":-20.5},{"s":"MVGParis CO","t":159,"g":-17.5},{"s":"MVGParis CO","t":162,"g":-16.7},{"s":"MVGParis CO","t":166,"g":-16.5},{"s":"MVGParis CO","t":169,"g":-17.5},{"s":"MVGParis CO","t":172,"g":-21},{"s":"MVGParis CO","t":175,"g":-28},{"s":"MVGParis CO","t":177.5,"g":-34.5},{"s":"MVGParis CO","t":180,"g":-40.5},

{"s":"NCSRD CO","t":-180,"g":-14.2},{"s":"NCSRD CO","t":-176,"g":-14.9},{"s":"NCSRD CO","t":-172,"g":-16.3},{"s":"NCSRD CO","t":-168,"g":-18.3},{"s":"NCSRD CO","t":-164,"g":-20.8},{"s":"NCSRD CO","t":-160,"g":-22.1},{"s":"NCSRD CO","t":-156,"g":-23},{"s":"NCSRD CO","t":-153,"g":-24.3},{"s":"NCSRD CO","t":-150.5,"g":-26.5},{"s":"NCSRD CO","t":-148,"g":-36},{"s":"NCSRD CO","t":-145.5,"g":-26},{"s":"NCSRD CO","t":-142,"g":-21.8},{"s":"NCSRD CO","t":-138.5,"g":-18.8},{"s":"NCSRD CO","t":-135,"g":-17.2},{"s":"NCSRD CO","t":-131,"g":-16.6},{"s":"NCSRD CO","t":-126.5,"g":-17.1},{"s":"NCSRD CO","t":-122,"g":-20},{"s":"NCSRD CO","t":-118,"g":-21.8},{"s":"NCSRD CO","t":-115,"g":-20.6},{"s":"NCSRD CO","t":-111,"g":-19},{"s":"NCSRD CO","t":-107,"g":-19.2},{"s":"NCSRD CO","t":-104,"g":-19.4},{"s":"NCSRD CO","t":-101,"g":-18},{"s":"NCSRD CO","t":-98,"g":-15.8},{"s":"NCSRD CO","t":-95,"g":-13.2},{"s":"NCSRD CO","t":-90,"g":-9.9},{"s":"NCSRD CO","t":-85,"g":-7.6},{"s":"NCSRD CO","t":-80,"g":-5.7},{"s":"NCSRD CO","t":-75,"g":-3.9},{"s":"NCSRD CO","t":-70,"g":-2.2},{"s":"NCSRD CO","t":-65,"g":-0.7},{"s":"NCSRD CO","t":-60,"g":0.5},{"s":"NCSRD CO","t":-55,"g":1.4},{"s":"NCSRD CO","t":-50,"g":2.15},{"s":"NCSRD CO","t":-45,"g":2.8},{"s":"NCSRD CO","t":-40,"g":3.4},{"s":"NCSRD CO","t":-35,"g":4.05},{"s":"NCSRD CO","t":-30,"g":4.85},{"s":"NCSRD CO","t":-25,"g":5.9},{"s":"NCSRD CO","t":-20,"g":7.1},{"s":"NCSRD CO","t":-15,"g":8.2},{"s":"NCSRD CO","t":-10,"g":9.1},{"s":"NCSRD CO","t":-5,"g":9.8},{"s":"NCSRD CO","t":0,"g":10.2},{"s":"NCSRD CO","t":2.5,"g":10.35},{"s":"NCSRD CO","t":5,"g":10.3},{"s":"NCSRD CO","t":10,"g":9.8},{"s":"NCSRD CO","t":15,"g":9},{"s":"NCSRD CO","t":20,"g":7.9},{"s":"NCSRD CO","t":25,"g":6.65},{"s":"NCSRD CO","t":30,"g":5.4},{"s":"NCSRD CO","t":35,"g":4.4},{"s":"NCSRD CO","t":40,"g":3.65},{"s":"NCSRD CO","t":45,"g":3},{"s":"NCSRD CO","t":50,"g":2.4},{"s":"NCSRD CO","t":55,"g":1.7},{"s":"NCSRD CO","t":60,"g":0.8},{"s":"NCSRD CO","t":65,"g":-0.3},{"s":"NCSRD CO","t":70,"g":-1.6},{"s":"NCSRD CO","t":75,"g":-3.15},{"s":"NCSRD CO","t":80,"g":-5},{"s":"NCSRD CO","t":85,"g":-7},{"s":"NCSRD CO","t":90,"g":-9.05},{"s":"NCSRD CO","t":95,"g":-11.1},{"s":"NCSRD CO","t":100,"g":-13.5},{"s":"NCSRD CO","t":105,"g":-16.5},{"s":"NCSRD CO","t":109,"g":-19},{"s":"NCSRD CO","t":113,"g":-19.6},{"s":"NCSRD CO","t":116.5,"g":-19.1},{"s":"NCSRD CO","t":120,"g":-20.9},{"s":"NCSRD CO","t":124.5,"g":-20},{"s":"NCSRD CO","t":129,"g":-17.3},{"s":"NCSRD CO","t":135,"g":-16.2},{"s":"NCSRD CO","t":139.5,"g":-18.2},{"s":"NCSRD CO","t":144,"g":-24},{"s":"NCSRD CO","t":147.7,"g":-30.2},{"s":"NCSRD CO","t":151,"g":-42},{"s":"NCSRD CO","t":154,"g":-30},{"s":"NCSRD CO","t":156.5,"g":-25.5},{"s":"NCSRD CO","t":159,"g":-22},{"s":"NCSRD CO","t":162,"g":-19.3},{"s":"NCSRD CO","t":165,"g":-17.5},{"s":"NCSRD CO","t":168.5,"g":-16.5},{"s":"NCSRD CO","t":172,"g":-15.6},{"s":"NCSRD CO","t":176,"g":-14.8},{"s":"NCSRD CO","t":180,"g":-14.2},

{"s":"Oviedo CO","t":-180,"g":-33},{"s":"Oviedo CO","t":-177,"g":-34},{"s":"Oviedo CO","t":-174,"g":-37},{"s":"Oviedo CO","t":-171,"g":-38},{"s":"Oviedo CO","t":-168,"g":-35},{"s":"Oviedo CO","t":-165,"g":-33.5},{"s":"Oviedo CO","t":-162,"g":-33.2},{"s":"Oviedo CO","t":-159,"g":-35},{"s":"Oviedo CO","t":-156,"g":-39},{"s":"Oviedo CO","t":-153,"g":-37},{"s":"Oviedo CO","t":-150,"g":-28},{"s":"Oviedo CO","t":-147,"g":-22},{"s":"Oviedo CO","t":-144,"g":-19.3},{"s":"Oviedo CO","t":-141,"g":-18},{"s":"Oviedo CO","t":-137,"g":-17.6},{"s":"Oviedo CO","t":-133,"g":-17.5},{"s":"Oviedo CO","t":-129,"g":-17.2},{"s":"Oviedo CO","t":-125.5,"g":-18},{"s":"Oviedo CO","t":-122,"g":-19.8},{"s":"Oviedo CO","t":-118,"g":-21.8},{"s":"Oviedo CO","t":-114,"g":-23.6},{"s":"Oviedo CO","t":-111,"g":-24.2},{"s":"Oviedo CO","t":-108,"g":-23.2},{"s":"Oviedo CO","t":-105,"g":-20.8},{"s":"Oviedo CO","t":-102,"g":-17.8},{"s":"Oviedo CO","t":-99,"g":-15.3},{"s":"Oviedo CO","t":-95,"g":-12},{"s":"Oviedo CO","t":-90,"g":-8.7},{"s":"Oviedo CO","t":-85,"g":-6.7},{"s":"Oviedo CO","t":-80,"g":-4.9},{"s":"Oviedo CO","t":-75,"g":-3.1},{"s":"Oviedo CO","t":-70,"g":-1.5},{"s":"Oviedo CO","t":-65,"g":-0.1},{"s":"Oviedo CO","t":-60,"g":0.9},{"s":"Oviedo CO","t":-55,"g":1.7},{"s":"Oviedo CO","t":-50,"g":2.4},{"s":"Oviedo CO","t":-45,"g":3},{"s":"Oviedo CO","t":-40,"g":3.6},{"s":"Oviedo CO","t":-35,"g":4.3},{"s":"Oviedo CO","t":-30,"g":5.2},{"s":"Oviedo CO","t":-25,"g":6.4},{"s":"Oviedo CO","t":-20,"g":7.6},{"s":"Oviedo CO","t":-15,"g":8.6},{"s":"Oviedo CO","t":-10,"g":9.4},{"s":"Oviedo CO","t":-5,"g":10},{"s":"Oviedo CO","t":0,"g":10.1},{"s":"Oviedo CO","t":5,"g":9.9},{"s":"Oviedo CO","t":10,"g":9.3},{"s":"Oviedo CO","t":15,"g":8.3},{"s":"Oviedo CO","t":20,"g":7.1},{"s":"Oviedo CO","t":25,"g":5.8},{"s":"Oviedo CO","t":30,"g":4.6},{"s":"Oviedo CO","t":35,"g":3.8},{"s":"Oviedo CO","t":40,"g":3.1},{"s":"Oviedo CO","t":45,"g":2.5},{"s":"Oviedo CO","t":50,"g":1.9},{"s":"Oviedo CO","t":55,"g":1.1},{"s":"Oviedo CO","t":60,"g":0.1},{"s":"Oviedo CO","t":65,"g":-1.1},{"s":"Oviedo CO","t":70,"g":-2.5},{"s":"Oviedo CO","t":75,"g":-4.2},{"s":"Oviedo CO","t":80,"g":-6.2},{"s":"Oviedo CO","t":85,"g":-8.2},{"s":"Oviedo CO","t":90,"g":-10.3},{"s":"Oviedo CO","t":95,"g":-12.3},{"s":"Oviedo CO","t":100,"g":-14.6},{"s":"Oviedo CO","t":105,"g":-17.6},{"s":"Oviedo CO","t":109,"g":-20.6},{"s":"Oviedo CO","t":113,"g":-22.8},{"s":"Oviedo CO","t":117,"g":-21},{"s":"Oviedo CO","t":121,"g":-18.8},{"s":"Oviedo CO","t":125,"g":-17.6},{"s":"Oviedo CO","t":128,"g":-17.4},{"s":"Oviedo CO","t":132,"g":-17.5},{"s":"Oviedo CO","t":137,"g":-18},{"s":"Oviedo CO","t":141,"g":-19.8},{"s":"Oviedo CO","t":144,"g":-21.8},{"s":"Oviedo CO","t":147,"g":-25.5},{"s":"Oviedo CO","t":150,"g":-31},{"s":"Oviedo CO","t":152.5,"g":-34},{"s":"Oviedo CO","t":155,"g":-30},{"s":"Oviedo CO","t":158,"g":-26.6},{"s":"Oviedo CO","t":160.5,"g":-26.4},{"s":"Oviedo CO","t":163,"g":-28.5},{"s":"Oviedo CO","t":166,"g":-34},{"s":"Oviedo CO","t":169,"g":-40.5},{"s":"Oviedo CO","t":172,"g":-38},{"s":"Oviedo CO","t":175,"g":-34.5},{"s":"Oviedo CO","t":180,"g":-33},

{"s":"UPM CO","t":-180,"g":-16.4},{"s":"UPM CO","t":-176,"g":-17.5},{"s":"UPM CO","t":-172,"g":-18.8},{"s":"UPM CO","t":-169,"g":-19.3},{"s":"UPM CO","t":-166,"g":-18.8},{"s":"UPM CO","t":-163,"g":-18.4},{"s":"UPM CO","t":-160,"g":-18.9},{"s":"UPM CO","t":-156,"g":-20},{"s":"UPM CO","t":-153,"g":-21.8},{"s":"UPM CO","t":-150,"g":-24.5},{"s":"UPM CO","t":-147,"g":-29},{"s":"UPM CO","t":-144,"g":-34.5},{"s":"UPM CO","t":-141,"g":-27.5},{"s":"UPM CO","t":-138,"g":-23},{"s":"UPM CO","t":-134.5,"g":-21.5},{"s":"UPM CO","t":-130.5,"g":-21.2},{"s":"UPM CO","t":-126,"g":-21.6},{"s":"UPM CO","t":-122,"g":-22.5},{"s":"UPM CO","t":-118,"g":-23.4},{"s":"UPM CO","t":-114.5,"g":-23.5},{"s":"UPM CO","t":-110,"g":-22.7},{"s":"UPM CO","t":-105.5,"g":-20.8},{"s":"UPM CO","t":-102,"g":-18.3},{"s":"UPM CO","t":-99.5,"g":-16},{"s":"UPM CO","t":-97,"g":-13.6},{"s":"UPM CO","t":-95,"g":-12.2},{"s":"UPM CO","t":-90,"g":-8.8},{"s":"UPM CO","t":-85,"g":-6.8},{"s":"UPM CO","t":-80,"g":-5},{"s":"UPM CO","t":-75,"g":-3.2},{"s":"UPM CO","t":-70,"g":-1.6},{"s":"UPM CO","t":-65,"g":-0.2},{"s":"UPM CO","t":-60,"g":0.8},{"s":"UPM CO","t":-55,"g":1.6},{"s":"UPM CO","t":-50,"g":2.3},{"s":"UPM CO","t":-45,"g":2.9},{"s":"UPM CO","t":-40,"g":3.5},{"s":"UPM CO","t":-35,"g":4.2},{"s":"UPM CO","t":-30,"g":5.1},{"s":"UPM CO","t":-25,"g":6.3},{"s":"UPM CO","t":-20,"g":7.5},{"s":"UPM CO","t":-15,"g":8.5},{"s":"UPM CO","t":-10,"g":9.3},{"s":"UPM CO","t":-5,"g":9.9},{"s":"UPM CO","t":0,"g":10},{"s":"UPM CO","t":5,"g":9.8},{"s":"UPM CO","t":10,"g":9.2},{"s":"UPM CO","t":15,"g":8.2},{"s":"UPM CO","t":20,"g":7},{"s":"UPM CO","t":25,"g":5.7},{"s":"UPM CO","t":30,"g":4.5},{"s":"UPM CO","t":35,"g":3.7},{"s":"UPM CO","t":40,"g":3},{"s":"UPM CO","t":45,"g":2.4},{"s":"UPM CO","t":50,"g":1.8},{"s":"UPM CO","t":55,"g":1},{"s":"UPM CO","t":60,"g":0},{"s":"UPM CO","t":65,"g":-1.2},{"s":"UPM CO","t":70,"g":-2.6},{"s":"UPM CO","t":75,"g":-4.3},{"s":"UPM CO","t":80,"g":-6.3},{"s":"UPM CO","t":85,"g":-8.3},{"s":"UPM CO","t":90,"g":-10.4},{"s":"UPM CO","t":95,"g":-12.4},{"s":"UPM CO","t":100,"g":-14.6},{"s":"UPM CO","t":105,"g":-17.8},{"s":"UPM CO","t":110,"g":-21.5},{"s":"UPM CO","t":115,"g":-24},{"s":"UPM CO","t":120,"g":-22.5},{"s":"UPM CO","t":124.6,"g":-21.3},{"s":"UPM CO","t":131.5,"g":-20.7},{"s":"UPM CO","t":137,"g":-22.2},{"s":"UPM CO","t":140,"g":-24.3},{"s":"UPM CO","t":143,"g":-27.5},{"s":"UPM CO","t":146.5,"g":-33},{"s":"UPM CO","t":149,"g":-28.5},{"s":"UPM CO","t":152,"g":-24},{"s":"UPM CO","t":155,"g":-21.5},{"s":"UPM CO","t":158,"g":-20.2},{"s":"UPM CO","t":164,"g":-19.1},{"s":"UPM CO","t":171,"g":-17.8},{"s":"UPM CO","t":176,"g":-17},{"s":"UPM CO","t":180,"g":-16.4},

{"s":"Weighted Ref. CO","t":-180,"g":-15},{"s":"Weighted Ref. CO","t":-176,"g":-15.8},{"s":"Weighted Ref. CO","t":-172,"g":-17},{"s":"Weighted Ref. CO","t":-168,"g":-18.3},{"s":"Weighted Ref. CO","t":-164,"g":-19.8},{"s":"Weighted Ref. CO","t":-160,"g":-20.9},{"s":"Weighted Ref. CO","t":-156,"g":-22.5},{"s":"Weighted Ref. CO","t":-152,"g":-24.3},{"s":"Weighted Ref. CO","t":-149,"g":-27.5},{"s":"Weighted Ref. CO","t":-146.5,"g":-25},{"s":"Weighted Ref. CO","t":-143.5,"g":-22.2},{"s":"Weighted Ref. CO","t":-139,"g":-20.4},{"s":"Weighted Ref. CO","t":-133,"g":-19.3},{"s":"Weighted Ref. CO","t":-128.5,"g":-19},{"s":"Weighted Ref. CO","t":-124,"g":-20.4},{"s":"Weighted Ref. CO","t":-118,"g":-22},{"s":"Weighted Ref. CO","t":-113.5,"g":-21.3},{"s":"Weighted Ref. CO","t":-109,"g":-19.9},{"s":"Weighted Ref. CO","t":-105,"g":-18.5},{"s":"Weighted Ref. CO","t":-101,"g":-15.5},{"s":"Weighted Ref. CO","t":-98,"g":-13.4},{"s":"Weighted Ref. CO","t":-95,"g":-11.3},{"s":"Weighted Ref. CO","t":-90,"g":-8.8},{"s":"Weighted Ref. CO","t":-85,"g":-6.8},{"s":"Weighted Ref. CO","t":-80,"g":-5},{"s":"Weighted Ref. CO","t":-75,"g":-3.2},{"s":"Weighted Ref. CO","t":-70,"g":-1.6},{"s":"Weighted Ref. CO","t":-65,"g":-0.2},{"s":"Weighted Ref. CO","t":-60,"g":0.8},{"s":"Weighted Ref. CO","t":-55,"g":1.6},{"s":"Weighted Ref. CO","t":-50,"g":2.3},{"s":"Weighted Ref. CO","t":-45,"g":2.9},{"s":"Weighted Ref. CO","t":-40,"g":3.5},{"s":"Weighted Ref. CO","t":-35,"g":4.2},{"s":"Weighted Ref. CO","t":-30,"g":5.1},{"s":"Weighted Ref. CO","t":-25,"g":6.3},{"s":"Weighted Ref. CO","t":-20,"g":7.5},{"s":"Weighted Ref. CO","t":-15,"g":8.5},{"s":"Weighted Ref. CO","t":-10,"g":9.3},{"s":"Weighted Ref. CO","t":-5,"g":9.9},{"s":"Weighted Ref. CO","t":0,"g":10.1},{"s":"Weighted Ref. CO","t":5,"g":9.9},{"s":"Weighted Ref. CO","t":10,"g":9.3},{"s":"Weighted Ref. CO","t":15,"g":8.3},{"s":"Weighted Ref. CO","t":20,"g":7.1},{"s":"Weighted Ref. CO","t":25,"g":5.8},{"s":"Weighted Ref. CO","t":30,"g":4.6},{"s":"Weighted Ref. CO","t":35,"g":3.8},{"s":"Weighted Ref. CO","t":40,"g":3.1},{"s":"Weighted Ref. CO","t":45,"g":2.5},{"s":"Weighted Ref. CO","t":50,"g":1.9},{"s":"Weighted Ref. CO","t":55,"g":1.1},{"s":"Weighted Ref. CO","t":60,"g":0.1},{"s":"Weighted Ref. CO","t":65,"g":-1.1},{"s":"Weighted Ref. CO","t":70,"g":-2.5},{"s":"Weighted Ref. CO","t":75,"g":-4.2},{"s":"Weighted Ref. CO","t":80,"g":-6.2},{"s":"Weighted Ref. CO","t":85,"g":-8.2},{"s":"Weighted Ref. CO","t":90,"g":-10.3},{"s":"Weighted Ref. CO","t":95,"g":-12.3},{"s":"Weighted Ref. CO","t":100,"g":-14.5},{"s":"Weighted Ref. CO","t":105,"g":-17.4},{"s":"Weighted Ref. CO","t":110,"g":-20.5},{"s":"Weighted Ref. CO","t":114,"g":-22.4},{"s":"Weighted Ref. CO","t":118,"g":-21.3},{"s":"Weighted Ref. CO","t":122.3,"g":-20.2},{"s":"Weighted Ref. CO","t":127,"g":-19.5},{"s":"Weighted Ref. CO","t":131.5,"g":-19.3},{"s":"Weighted Ref. CO","t":135,"g":-19.8},{"s":"Weighted Ref. CO","t":138.5,"g":-20.9},{"s":"Weighted Ref. CO","t":141,"g":-22.7},{"s":"Weighted Ref. CO","t":144,"g":-25.3},{"s":"Weighted Ref. CO","t":147,"g":-29},{"s":"Weighted Ref. CO","t":149,"g":-31},{"s":"Weighted Ref. CO","t":151.5,"g":-27},{"s":"Weighted Ref. CO","t":154.6,"g":-22.2},{"s":"Weighted Ref. CO","t":158,"g":-19.8},{"s":"Weighted Ref. CO","t":161.5,"g":-18.7},{"s":"Weighted Ref. CO","t":165,"g":-18.3},{"s":"Weighted Ref. CO","t":168.5,"g":-18},{"s":"Weighted Ref. CO","t":173,"g":-17},{"s":"Weighted Ref. CO","t":177,"g":-16},{"s":"Weighted Ref. CO","t":180,"g":-15}
]},
"data": {"name": "d"},
"mark": {"type": "line", "strokeWidth": 1, "clip": true, "interpolate": "monotone"},
"encoding": {
  "x": {"field": "t", "type": "quantitative", "scale": {"domain": [-180, 180], "nice": false, "zero": false},
        "axis": {"values": [-180,-150,-120,-90,-60,-30,0,30,60,90,120,150,180], "title": "θ (º)", "labelPadding": 15, "titlePadding": 9, "grid": true}},
  "y": {"field": "g", "type": "quantitative", "scale": {"domain": [-40, 12], "nice": false, "zero": false},
        "axis": {"values": [-40,-35,-30,-25,-20,-15,-10,-5,0,5,10], "title": "Gain (dBi)", "labelPadding": 12, "titlePadding": 5, "grid": true}},
  "color": {"field": "s", "type": "nominal",
    "scale": {"domain": ["IMST CO","MVGAtlanta CO","MVGParis CO","NCSRD CO","Oviedo CO","UPM CO","IMST CX","MVGAtlanta CX","MVGParis CX","NCSRD CX","Oviedo CX","UPM CX","Weighted Ref. CO","Weighted Ref. CX"],
              "range": ["#0b7d3e","#ee2a2e","#1cc0c0","#a3369e","#bdbd36","#646464","#0b7d3e","#ee2a2e","#1cc0c0","#a3369e","#bdbd36","#646464","#5cba47","#5cba47"]},
    "legend": {"orient": "none", "legendX": 406, "legendY": -40, "title": null, "symbolType": "M-3,0H3", "symbolStrokeWidth": 2.5, "symbolSize": 144, "symbolOffset": 11, "labelFontSize": 14, "labelFont": "Liberation Sans", "labelColor": "#000000", "strokeColor": "#262626", "fillColor": "#ffffff", "padding": 5, "rowPadding": 0.9, "labelOffset": 13, "labelLimit": 300}},
  "strokeDash": {"field": "s", "type": "nominal",
    "scale": {"domain": ["IMST CO","MVGAtlanta CO","MVGParis CO","NCSRD CO","Oviedo CO","UPM CO","IMST CX","MVGAtlanta CX","MVGParis CX","NCSRD CX","Oviedo CX","UPM CX","Weighted Ref. CO","Weighted Ref. CX"],
              "range": [[1,0],[1,0],[1,0],[1,0],[1,0],[1,0],[7,5],[7,5],[7,5],[7,5],[7,5],[7,5],[1,0],[7,5]]},
    "legend": {"orient": "none", "legendX": 406, "legendY": -40, "title": null, "symbolType": "M-3,0H3", "symbolStrokeWidth": 2.5, "symbolSize": 144, "symbolOffset": 11, "labelFontSize": 14, "labelFont": "Liberation Sans", "labelColor": "#000000", "strokeColor": "#262626", "fillColor": "#ffffff", "padding": 5, "rowPadding": 0.9, "labelOffset": 13, "labelLimit": 300}}
}
}
